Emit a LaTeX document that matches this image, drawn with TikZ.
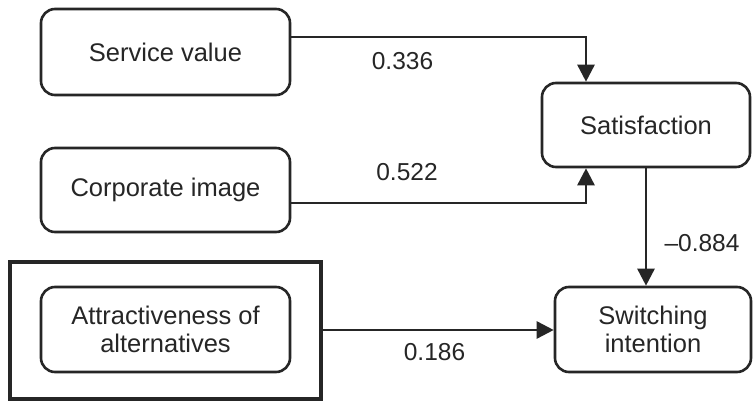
\documentclass[tikz,border=0pt]{standalone}
\usepackage{fontspec}
\setmainfont{Liberation Sans}
\usetikzlibrary{arrows.meta}
\begin{document}
\begin{tikzpicture}[x=1pt,y=-1pt,
  every node/.style={font=\fontsize{25.5}{28}\selectfont, text=black!85},
  factor/.style={draw=black!85, line width=2.6pt, rounded corners=14pt, align=center,
                 inner sep=0pt},
  path/.style={draw=black!85, line width=2.6pt,
               -{Triangle[width=17pt,length=17pt]}},
  coef/.style={font=\fontsize{24.5}{27}\selectfont}]
\useasboundingbox (0,0) rectangle (753,403);
\fill[white] (0,0) rectangle (753,403);

% construct boxes
\node[factor, minimum width=249pt, minimum height=86pt] (sv)  at (165.5,52)  {Service value};
\node[factor, minimum width=249pt, minimum height=84pt] (ci)  at (165.5,190) {Corporate image};
\node[factor, minimum width=249pt, minimum height=85pt] (aa)  at (165.5,329.5) {Attractiveness of\\alternatives};
\node[factor, minimum width=208pt, minimum height=84pt] (sat) at (646,125)  {Satisfaction};
\node[factor, minimum width=196pt, minimum height=85pt] (sw)  at (653,329.5) {Switching\\intention};

% frame around the moderating construct
\draw[black!85, line width=4pt] (10,262) rectangle (321,399);
\coordinate (frameR) at (321,330);

% structural paths
\draw[path] (sv.east |- 0,37) -| ([xshift=-60pt]sat.north);
\draw[path] (ci.east |- 0,203) -| ([xshift=-60pt]sat.south);
\draw[path] (sat.south) -- (sat.south |- sw.north);
\draw[path] (frameR) -- (sw.west |- frameR);

% path coefficients
\node[coef] (c1) at (402.5,61)  {0.336};
\node[coef] (c2) at (407,172) {0.522};
\node[coef] (c3) at (702,243) {\textendash0.884};
\node[coef] (c4) at (434.5,352) {0.186};
\end{tikzpicture}
\end{document}
